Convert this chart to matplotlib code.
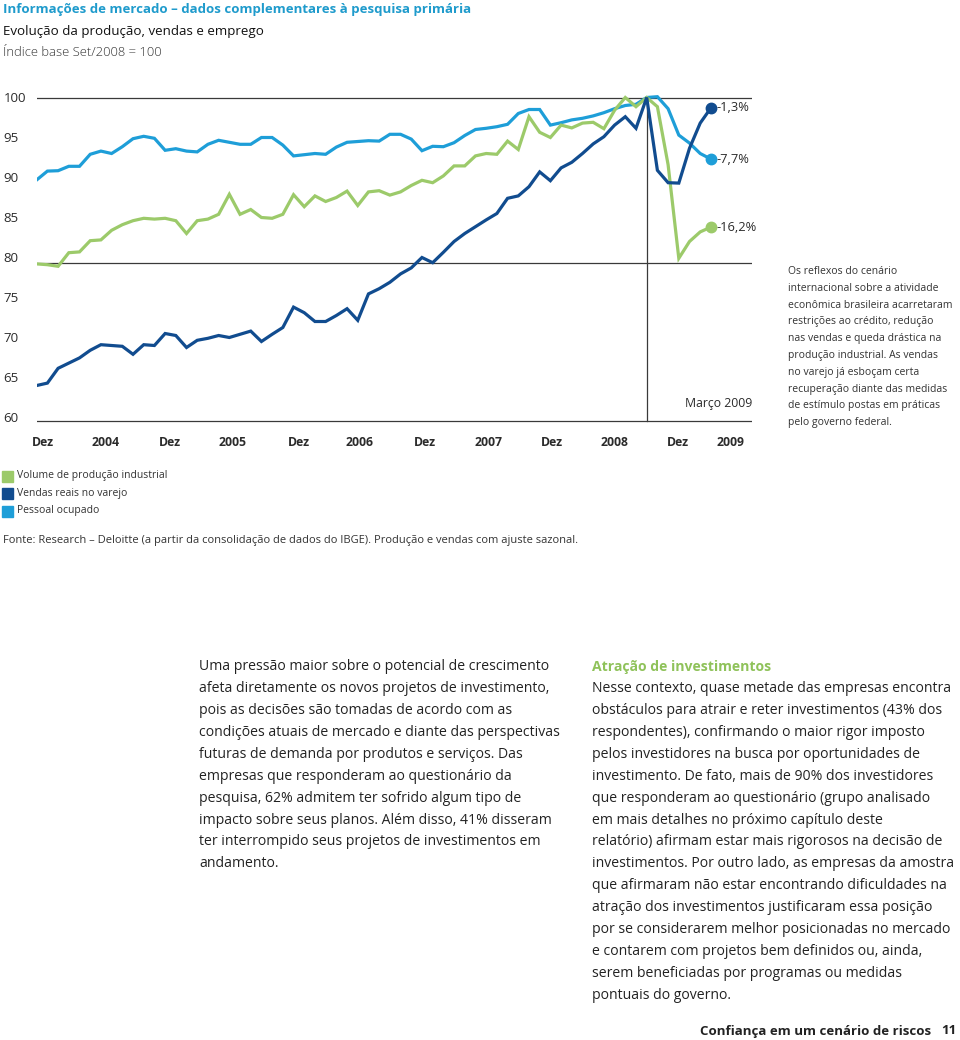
import matplotlib
matplotlib.use("Agg")
import matplotlib.pyplot as plt
from matplotlib.patches import Rectangle

# --- Data: índice base Set/2008 = 100, mensal Dez/2003 .. Mar/2009 ---
producao = [79.2, 79.1, 78.9, 80.6, 80.7, 82.1, 82.2, 83.4, 84.1, 84.6,
            84.9, 84.8, 84.9, 84.6, 83.0, 84.6, 84.8, 85.4, 87.9, 85.4,
            86.0, 85.0, 84.9, 85.4, 87.85, 86.35, 87.7, 87.0, 87.5, 88.3,
            86.5, 88.2, 88.35, 87.8, 88.2, 89.0, 89.65, 89.35, 90.2, 91.45,
            91.45, 92.7, 93.0, 92.9, 94.55, 93.5, 97.6, 95.65, 95.0, 96.55,
            96.2, 96.8, 96.9, 96.1, 98.4, 100.0, 98.85, 100.0, 98.85, 91.6,
            79.9, 82.0, 83.2, 83.8]
vendas = [64.0, 64.3, 66.15, 66.8, 67.45, 68.4, 69.1, 69.0, 68.9, 67.9,
          69.1, 69.0, 70.5, 70.25, 68.75, 69.65, 69.9, 70.25, 70.0, 70.4,
          70.8, 69.5, 70.4, 71.25, 73.8, 73.1, 72.0, 72.0, 72.75, 73.6,
          72.15, 75.45, 76.1, 76.9, 77.95, 78.7, 80.0, 79.35, 80.65, 82.0,
          83.0, 83.85, 84.7, 85.5, 87.4, 87.7, 88.85, 90.7, 89.6, 91.2,
          91.9, 93.0, 94.2, 95.1, 96.55, 97.6, 96.15, 100.0, 90.9, 89.35,
          89.3, 93.65, 96.8, 98.7]
pessoal = [89.7, 90.8, 90.85, 91.4, 91.4, 92.9, 93.3, 93.0, 93.85, 94.85,
           95.15, 94.9, 93.4, 93.6, 93.3, 93.2, 94.15, 94.65, 94.4, 94.15,
           94.15, 95.0, 95.0, 94.05, 92.7, 92.85, 93.0, 92.9, 93.8, 94.4,
           94.5, 94.6, 94.55, 95.4, 95.4, 94.8, 93.35, 93.9, 93.85, 94.35,
           95.25, 96.0, 96.15, 96.35, 96.65, 98.0, 98.5, 98.5, 96.55, 96.85,
           97.2, 97.4, 97.7, 98.1, 98.6, 99.0, 99.15, 100.0, 100.1, 98.6,
           95.3, 94.3, 93.0, 92.3]

series_names = ["Volume de produção industrial", "Vendas reais no varejo", "Pessoal ocupado"]
end_labels = ["-16,2%", "-1,3%", "-7,7%"]

x_tick_labels = ["Dez", "2004", "Dez", "2005", "Dez", "2006",
                 "Dez", "2007", "Dez", "2008", "Dez", "2009"]
x_tick_pos = [0.55, 6.4, 12.45, 18.3, 24.5, 30.2, 36.3, 42.2, 48.1, 54.0, 59.9, 64.8]
y_ticks = [60, 65, 70, 75, 80, 85, 90, 95, 100]
peak_index = 57  # Set/2008

# --- Colours / fonts ---
GREEN = "#9cca6a"
DARK = "#114c8f"
LIGHT = "#1e9ed8"
TITLE = "#1f9bcc"
TXT = "#2b2b2b"
plt.rcParams["font.family"] = ["Open Sans", "DejaVu Sans"]

W, H = 960, 1040
fig = plt.figure(figsize=(W / 100, H / 100), dpi=100)


def fx(x):
    return x / W


def fy(y):
    return 1 - y / H


# chart axes: x pixels 36.7..752, y range 58..102 -> pixels 433.5..81.5
ax = fig.add_axes([fx(36.7), fy(433.5), (752 - 36.7) / W, 352 / H])
ax.set_xlim(0, 66.84)
ax.set_ylim(58, 102)
for s in ax.spines.values():
    s.set_visible(False)

for yv in [99.95, 79.3, 59.55]:
    ax.axhline(yv, color="#3a3a3a", lw=0.9, zorder=1)
ax.plot([peak_index, peak_index], [59.55, 99.95], color="#3a3a3a", lw=0.9, zorder=1)

xs = list(range(len(producao)))
ax.plot(xs, pessoal, color=LIGHT, lw=2.3, zorder=3, solid_joinstyle="miter")
ax.plot(xs, producao, color=GREEN, lw=2.3, zorder=4, solid_joinstyle="miter")
ax.plot(xs, vendas, color=DARK, lw=2.3, zorder=5, solid_joinstyle="miter")

for vals, col, lab in zip([producao, vendas, pessoal], [GREEN, DARK, LIGHT], end_labels):
    ax.plot(xs[-1], vals[-1], "o", color=col, ms=7.5, zorder=6)
    ax.text(xs[-1] + 0.5, vals[-1], lab, fontsize=9.3, color=TXT, va="center", ha="left")

ax.text(66.84, 61.7, "Março 2009", fontsize=8.8, color=TXT, ha="right", va="center")

ax.set_xticks(x_tick_pos)
ax.set_xticklabels(x_tick_labels, fontsize=8.8, fontweight="bold", color=TXT)
ax.set_yticks(y_ticks)
ax.set_yticklabels([str(v) for v in y_ticks], fontsize=9.5, color=TXT)
ax.tick_params(axis="x", length=0, pad=1.5)
ax.tick_params(axis="y", length=0, pad=24)
for lab in ax.get_yticklabels():
    lab.set_ha("left")

# --- Titles ---
fig.text(fx(3), fy(10), "Informações de mercado – dados complementares à pesquisa primária",
         fontsize=9.55, fontweight="bold", color=TITLE, va="center")
fig.text(fx(3), fy(32), "Evolução da produção, vendas e emprego",
         fontsize=9.6, color="#111111", va="center")
fig.text(fx(3), fy(52), "Índice base Set/2008 = 100",
         fontsize=9.4, color="#333333", va="center", fontweight="light")

# --- Side note ---
note = ["Os reflexos do cenário", "internacional sobre a atividade",
        "econômica brasileira acarretaram", "restrições ao crédito, redução",
        "nas vendas e queda drástica na", "produção industrial. As vendas",
        "no varejo já esboçam certa", "recuperação diante das medidas",
        "de estímulo postas em práticas", "pelo governo federal."]
for k, line in enumerate(note):
    fig.text(fx(788), fy(271.5 + k * 16.8), line, fontsize=7.5, color="#333333", va="center")

# --- Legend ---
for k, (name, col) in enumerate(zip(series_names, [GREEN, DARK, LIGHT])):
    yc = 476 + k * 17.5
    fig.patches.append(Rectangle((fx(2), fy(yc + 5.5)), 11 / W, 11 / H,
                                 transform=fig.transFigure, color=col))
    fig.text(fx(17), fy(yc), name, fontsize=7.5, color="#333333", va="center")

fig.text(fx(3), fy(541), "Fonte: Research – Deloitte (a partir da consolidação de dados do IBGE). "
         "Produção e vendas com ajuste sazonal.", fontsize=8.0, color="#333333", va="center")

# --- Body text ---
left_col = ["Uma pressão maior sobre o potencial de crescimento",
            "afeta diretamente os novos projetos de investimento,",
            "pois as decisões são tomadas de acordo com as",
            "condições atuais de mercado e diante das perspectivas",
            "futuras de demanda por produtos e serviços. Das",
            "empresas que responderam ao questionário da",
            "pesquisa, 62% admitem ter sofrido algum tipo de",
            "impacto sobre seus planos. Além disso, 41% disseram",
            "ter interrompido seus projetos de investimentos em",
            "andamento."]
right_col = ["Nesse contexto, quase metade das empresas encontra",
             "obstáculos para atrair e reter investimentos (43% dos",
             "respondentes), confirmando o maior rigor imposto",
             "pelos investidores na busca por oportunidades de",
             "investimento. De fato, mais de 90% dos investidores",
             "que responderam ao questionário (grupo analisado",
             "em mais detalhes no próximo capítulo deste",
             "relatório) afirmam estar mais rigorosos na decisão de",
             "investimentos. Por outro lado, as empresas da amostra",
             "que afirmaram não estar encontrando dificuldades na",
             "atração dos investimentos justificaram essa posição",
             "por se considerarem melhor posicionadas no mercado",
             "e contarem com projetos bem definidos ou, ainda,",
             "serem beneficiadas por programas ou medidas",
             "pontuais do governo."]
LS = 21.87
for k, line in enumerate(left_col):
    fig.text(fx(199), fy(667 + k * LS), line, fontsize=10.1, color="#222222", va="center")
fig.text(fx(592), fy(667), "Atração de investimentos", fontsize=10.1, fontweight="bold",
         color="#8fc25a", va="center")
for k, line in enumerate(right_col):
    fig.text(fx(592), fy(667 + (k + 1) * LS), line, fontsize=10.1, color="#222222", va="center")

fig.text(fx(700), fy(1031), "Confiança em um cenário de riscos", fontsize=9.5,
         fontweight="bold", color="#222222", va="center")
fig.text(fx(956), fy(1031), "11", fontsize=9.5, fontweight="bold", color="#222222",
         va="center", ha="right")

plt.savefig("out.png", dpi=100)
